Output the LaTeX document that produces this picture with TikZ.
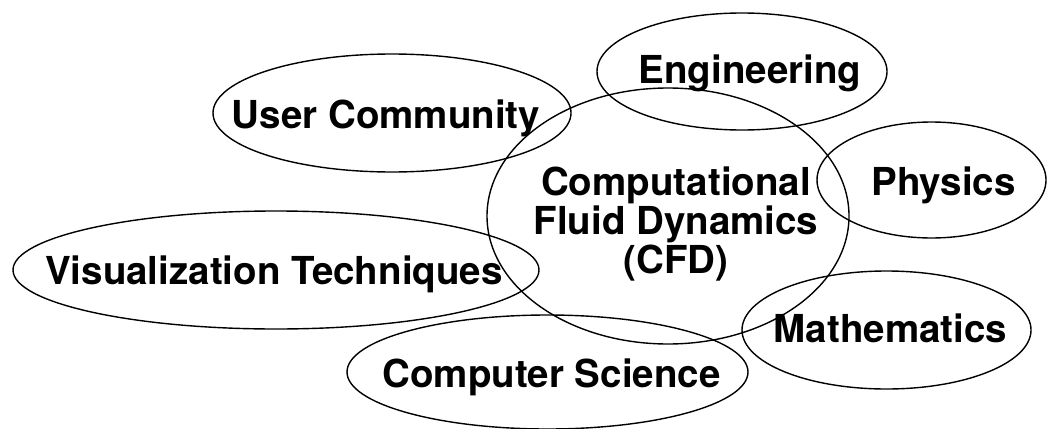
\documentclass[tikz,border=0pt]{standalone}
\usepackage{fontspec}
\setmainfont{TeX Gyre Heros}
\begin{document}
\begin{tikzpicture}[x=1pt,y=-1pt,
  ring/.style={draw=black,line width=1.4pt},
  lbl/.style={font=\fontsize{38.5}{39}\selectfont\bfseries,inner sep=0pt,anchor=base,align=center}]
\useasboundingbox (0,0) rectangle (1048,428);
% ellipse centres
\coordinate (cfdC) at (668,216);
\coordinate (engC) at (742,71.5);
\coordinate (ucC)  at (392,113);
\coordinate (phyC) at (931.5,180);
\coordinate (visC) at (276,270);
\coordinate (matC) at (886.5,330);
\coordinate (csC)  at (547.5,372);
% ellipses
\draw[ring] (cfdC) ellipse [x radius=181pt,y radius=128pt];
\draw[ring] (engC) ellipse [x radius=145pt,y radius=58.5pt];
\draw[ring] (ucC)  ellipse [x radius=179pt,y radius=59pt];
\draw[ring] (phyC) ellipse [x radius=114.5pt,y radius=58pt];
\draw[ring] (visC) ellipse [x radius=263pt,y radius=59pt];
\draw[ring] (matC) ellipse [x radius=144.5pt,y radius=59pt];
\draw[ring] (csC)  ellipse [x radius=200.5pt,y radius=57pt];
% labels
\node[lbl] (uc)  at (386,128) {User Community};
\node[lbl] (eng) at (750,83) {Engineering};
\node[lbl] (phy) at (943.5,195) {Physics};
\node[lbl] (vis) at (274,284) {Visualization Techniques};
\node[lbl] (mat) at (890.5,342) {Mathematics};
\node[lbl] (cs)  at (551.5,387) {Computer Science};
\node[lbl,anchor=center] (cfd) at (676,224) {Computational\\Fluid Dynamics\\(CFD)};
\end{tikzpicture}
\end{document}
